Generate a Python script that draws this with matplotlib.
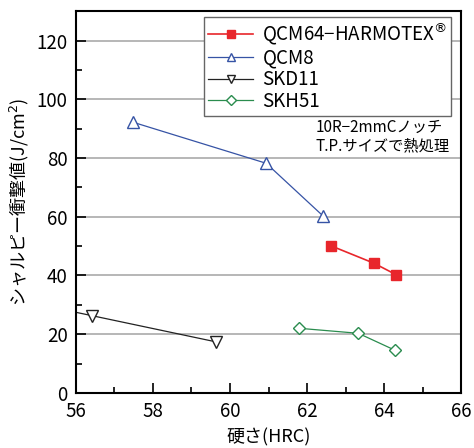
import matplotlib.pyplot as plt
from matplotlib.ticker import MultipleLocator

plt.rcParams['font.family'] = ['Noto Sans CJK JP', 'DejaVu Sans']

# hardness (HRC) and Charpy impact values (J/cm2)
qcm64_x = [62.62, 63.73, 64.32]
qcm64_y = [50.1, 44.2, 40.2]
qcm8_x = [57.48, 60.94, 62.42]
qcm8_y = [92.2, 78.2, 60.2]
skd11_x = [55.0, 56.42, 59.63]   # first point lies left of the axis (clipped)
skd11_y = [30.2, 26.3, 17.4]
skh51_x = [61.8, 63.33, 64.27]
skh51_y = [22.0, 20.3, 14.6]

fig = plt.figure(figsize=(4.74, 4.48), dpi=100)
ax = fig.add_axes([0.160, 0.123, 0.813, 0.852])

ax.plot(qcm64_x, qcm64_y, color='#e8262b', lw=1.2, marker='s', ms=7,
        mfc='#e8262b', mec='#e8262b', label='QCM64−HARMOTEX$^{®}$')
ax.plot(qcm8_x, qcm8_y, color='#3653a5', lw=0.9, marker='^', ms=8,
        mfc='white', mec='#3653a5', label='QCM8')
ax.plot(skd11_x, skd11_y, color='#222222', lw=0.9, marker='v', ms=8,
        mfc='white', mec='#222222', label='SKD11')
ax.plot(skh51_x, skh51_y, color='#2a8c4e', lw=0.9, marker='D', ms=6.5,
        mfc='white', mec='#2a8c4e', label='SKH51')

ax.set_xlim(56, 66)
ax.set_ylim(0, 130)
ax.xaxis.set_major_locator(MultipleLocator(2))
ax.xaxis.set_minor_locator(MultipleLocator(1))
ax.yaxis.set_major_locator(MultipleLocator(20))
ax.yaxis.set_minor_locator(MultipleLocator(10))
ax.set_yticks([0, 20, 40, 60, 80, 100, 120])
ax.tick_params(which='both', direction='in', labelsize=13.5, width=1.2)
ax.tick_params(which='major', length=7)
ax.tick_params(which='minor', length=4)
ax.tick_params(axis='x', pad=6)
ax.tick_params(axis='y', pad=6)
ax.grid(axis='y', which='major', color='#aaaaaa', lw=1.2)
ax.set_axisbelow(True)
for s in ax.spines.values():
    s.set_linewidth(1.5)

ax.set_xlabel('硬さ(HRC)', fontsize=13, labelpad=4)
ax.set_ylabel('シャルピー衝撃値(J/cm$^2$)', fontsize=13, labelpad=4)

ax.text(0.622, 0.718, '10R−2mmCノッチ\nT.P.サイズで熱処理', transform=ax.transAxes,
        fontsize=11, va='top', ha='left', linespacing=1.15)

leg = ax.legend(loc='upper right', bbox_to_anchor=(0.974, 0.984), fontsize=13.5,
                fancybox=False, edgecolor='#666666', framealpha=1,
                borderaxespad=0, markerscale=0.8,
                handlelength=2.4, borderpad=0.2, labelspacing=0.03,
                handletextpad=0.5)
leg.get_frame().set_linewidth(1.0)

fig.savefig('out.png', dpi=100)
